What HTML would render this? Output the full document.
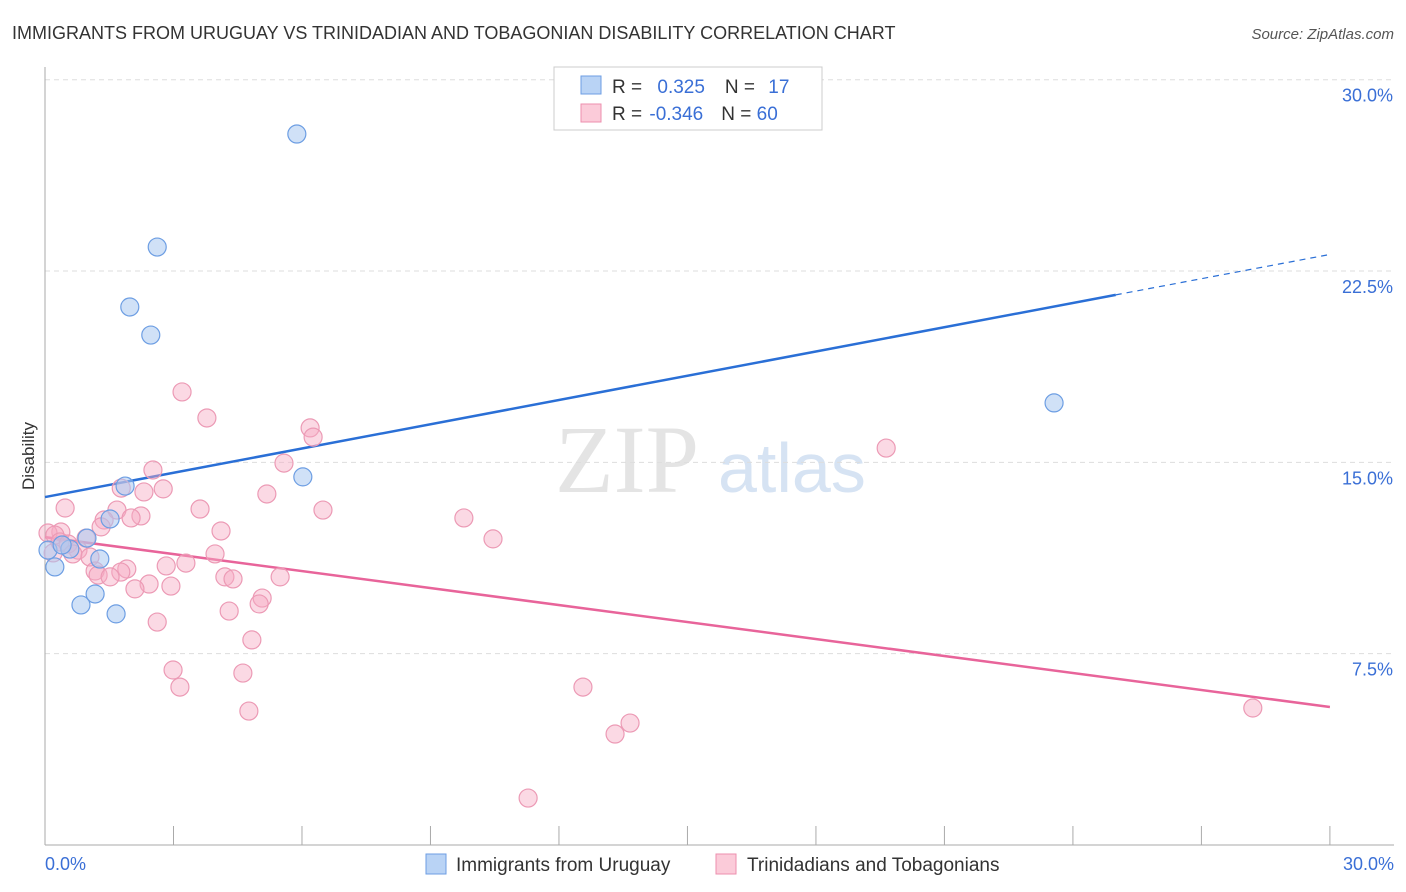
<!DOCTYPE html>
<html><head><meta charset="utf-8"><style>
body{margin:0;background:#fff;font-family:"Liberation Sans",sans-serif;}
#c{position:relative;width:1406px;height:892px;overflow:hidden}
</style></head><body>
<div id="c">
<svg id="s" width="1406" height="892" xmlns="http://www.w3.org/2000/svg">
<text x="12" y="39" font-size="18" fill="#333">IMMIGRANTS FROM URUGUAY VS TRINIDADIAN AND TOBAGONIAN DISABILITY CORRELATION CHART</text>
<text x="1394" y="39" font-size="15" fill="#555" text-anchor="end" font-style="italic">Source: ZipAtlas.com</text>
<text x="34" y="456" font-size="17" fill="#333" text-anchor="middle" transform="rotate(-90 34 456)">Disability</text>
<text x="555" y="492" font-size="96" fill="#e4e4e4" font-family="Liberation Serif">ZIP</text>
<text x="718" y="492" font-size="70" fill="#d6e3f3">atlas</text>
<g id="grid"></g><g id="axes"></g><g id="lines"></g><g id="pts"></g>
<rect x="554" y="67" width="268" height="63" fill="#fff" stroke="#ccc"/>
<rect x="581" y="76" width="20" height="18" fill="#b9d3f5" stroke="#6d9ee3"/>
<rect x="581" y="104" width="20" height="18" fill="#fbcbd9" stroke="#ec8fae"/>
<text x="612" y="93" font-size="19" fill="#333">R = <tspan fill="#3a6fd6" dx="10">0.325</tspan><tspan dx="20" fill="#333">N = </tspan><tspan fill="#3a6fd6" dx="8">17</tspan></text>
<text x="612" y="120" font-size="19" fill="#333">R = <tspan fill="#3a6fd6" dx="2">-0.346</tspan><tspan dx="18" fill="#333">N = </tspan><tspan fill="#3a6fd6" dx="0">60</tspan></text>
<rect x="426" y="854" width="20" height="20" fill="#b9d3f5" stroke="#6d9ee3"/>
<text x="456" y="871" font-size="19" fill="#333">Immigrants from Uruguay</text>
<rect x="716" y="854" width="20" height="20" fill="#fbcbd9" stroke="#ec8fae"/>
<text x="747" y="871" font-size="19" fill="#333">Trinidadians and Tobagonians</text>
</svg></div>
<script>
const yTicks=[7.5,15,22.5,30];
const yTickLabels=["7.5%","15.0%","22.5%","30.0%"];
const xTickLabels=["0.0%","30.0%"];
const blueX=[5.88,2.62,1.98,2.47,23.56,6.02,1.87,1.52,0.98,1.28,0.58,0.23,0.84,1.17,1.66,0.07,0.4];
const blueY=[27.87,23.44,21.09,19.99,17.33,14.43,14.07,12.78,12.03,11.21,11.6,10.9,9.41,9.84,9.06,11.56,11.76];
const pinkX=[3.2,3.78,6.19,6.26,5.58,2.52,19.64,2.76,2.31,1.78,5.18,0.47,3.62,6.49,1.68,2.24,2.01,1.38,9.78,4.11,1.31,0.37,0.07,0.23,0.96,10.46,0.35,0.54,0.77,3.97,0.65,1.05,3.29,2.83,1.91,1.17,1.77,1.24,1.52,4.2,4.39,5.49,2.43,2.94,2.1,5.07,5.0,4.3,2.62,4.83,2.99,3.15,4.62,4.76,12.56,13.31,13.66,11.28,28.2,0.19];
const pinkY=[17.76,16.74,16.35,15.99,14.97,14.7,15.56,13.96,13.84,13.99,13.76,13.21,13.17,13.13,13.13,12.9,12.82,12.74,12.82,12.31,12.47,12.27,12.23,12.15,12.03,12.0,11.88,11.8,11.56,11.41,11.41,11.29,11.05,10.94,10.82,10.74,10.7,10.58,10.51,10.51,10.43,10.51,10.23,10.15,10.04,9.68,9.45,9.17,8.74,8.04,6.86,6.19,6.74,5.25,6.19,4.35,4.78,1.84,5.37,11.45];
const blueTrend=[13.64,0.317];
const pinkTrend=[12.07,-0.222];
const NS="http://www.w3.org/2000/svg";
const X=v=>45+v*42.83, Y=v=>845-v*25.51;
function mk(t,a,p){const e=document.createElementNS(NS,t);for(const k in a)e.setAttribute(k,a[k]);document.getElementById(p).appendChild(e);return e;}
yTicks.forEach((t,i)=>{
 const l=mk('line',{x1:45,x2:1394,y1:Y(t),y2:Y(t),stroke:'#ddd','stroke-dasharray':'5,4'},'grid');
 
 
 const tx=mk('text',{x:1393,y:Y(t)+22,'font-size':18,fill:'#3a6fd6','text-anchor':'end'},'grid');
 tx.textContent=yTickLabels[i];
 
 
});
let a=mk('line',{x1:45,x2:45,y1:67,y2:845,stroke:'#aaa'},'axes');


a=mk('line',{x1:45,x2:1394,y1:845,y2:845,stroke:'#aaa'},'axes');


for(let i=1;i<=10;i++){
 const t=mk('line',{x1:X(i*3),x2:X(i*3),y1:826,y2:845,stroke:'#aaa'},'axes');
 
 
}
[[0,'start',45],[30,'end',1394]].forEach((d,i)=>{
 const t=mk('text',{x:d[2],y:870,'font-size':18,fill:'#3a6fd6','text-anchor':d[1]},'axes');
 t.textContent=xTickLabels[i];
 
 
});
let ln=mk('line',{x1:X(0),y1:Y(blueTrend[0]),x2:X(25),y2:Y(blueTrend[0]+25*blueTrend[1]),stroke:'#2a6fd6','stroke-width':2.5},'lines');


ln=mk('line',{x1:X(25),y1:Y(blueTrend[0]+25*blueTrend[1]),x2:X(30),y2:Y(blueTrend[0]+30*blueTrend[1]),stroke:'#2a6fd6','stroke-width':1.2,'stroke-dasharray':'6,5'},'lines');


ln=mk('line',{x1:X(0),y1:Y(pinkTrend[0]),x2:X(30),y2:Y(pinkTrend[0]+30*pinkTrend[1]),stroke:'#e8649a','stroke-width':2.5},'lines');


pinkX.forEach((v,i)=>{
 const c=mk('circle',{cx:X(v),cy:Y(pinkY[i]),r:9,fill:'rgba(246,170,195,0.45)',stroke:'#ec9ab5','stroke-width':1.2},'pts');
 
 
});
blueX.forEach((v,i)=>{
 const c=mk('circle',{cx:X(v),cy:Y(blueY[i]),r:9,fill:'rgba(170,200,240,0.55)',stroke:'#6d9ee3','stroke-width':1.2},'pts');
 
 
});
</script>
</body></html>
